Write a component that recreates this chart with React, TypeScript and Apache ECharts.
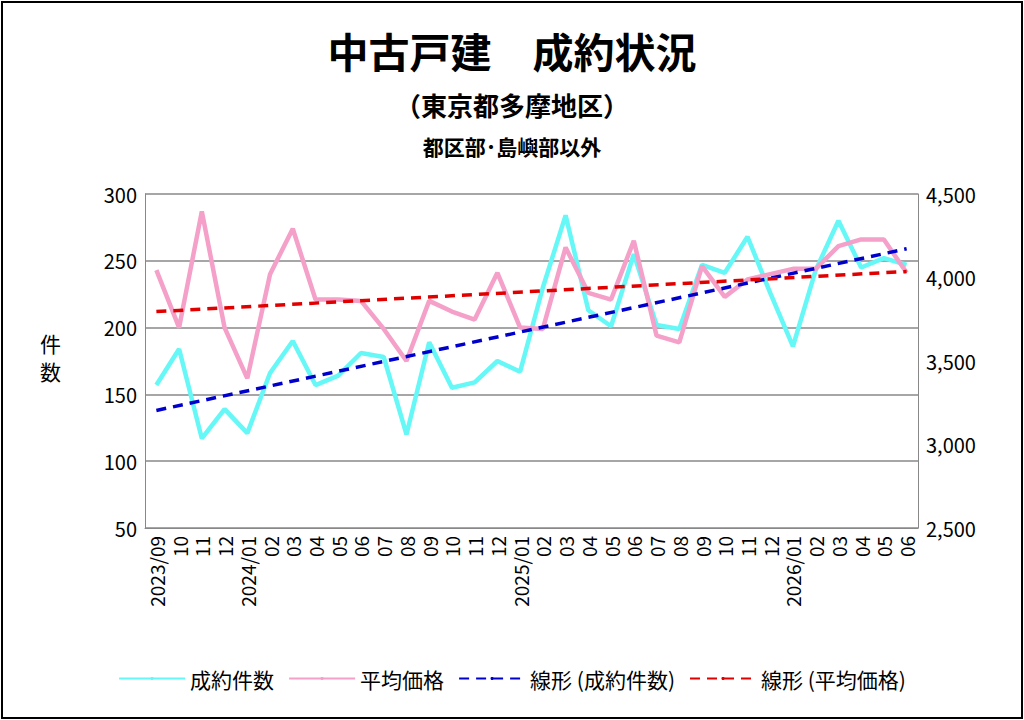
import React from "react";
import * as echarts from "echarts";

const months = [
  "2023/09", "10", "11", "12", "2024/01", "02", "03", "04", "05", "06", "07", "08",
  "09", "10", "11", "12", "2025/01", "02", "03", "04", "05", "06", "07", "08",
  "09", "10", "11", "12", "2026/01", "02", "03", "04", "05", "06",
];
const counts = [
  157, 184, 117, 139, 121, 166, 190, 157, 164, 181, 178, 120,
  189, 155, 159, 175, 167, 230, 284, 213, 201, 255, 202, 199,
  247, 241, 268, 226, 186, 243, 280, 245, 252, 247,
];
const prices = [
  4044, 3700, 4396, 3700, 3396, 4020, 4292, 3868, 3868, 3860, 3692, 3500,
  3860, 3796, 3748, 4028, 3700, 3692, 4180, 3908, 3868, 4220, 3652, 3612,
  4068, 3884, 3988, 4020, 4052, 4052, 4188, 4228, 4228, 4028,
];
// trend line ends
const countTrendEnds = [138, 259];
const priceTrendEnds = [3796, 4036];

const ends = (pair: number[]) =>
  months.map((_, i) => (i === 0 ? pair[0] : i === months.length - 1 ? pair[1] : null));

const FONT = "'Noto Sans CJK JP', 'Noto Sans', sans-serif";

export default function App() {
  const ref = React.useRef<HTMLDivElement>(null);

  React.useEffect(() => {
    if (!ref.current) return;
    const chart = echarts.init(ref.current, undefined, { renderer: "svg" });
    const axisLabel = { color: "#000", fontSize: 20, fontFamily: FONT };
    chart.setOption({
      animation: false,
      backgroundColor: "#fff",
      textStyle: { fontFamily: FONT },
      title: [
        { text: "中古戸建　成約状況", left: "center", top: 24, textStyle: { fontSize: 41, fontWeight: "bold", color: "#000", fontFamily: FONT } },
        { text: "（東京都多摩地区）", left: "center", top: 86, textStyle: { fontSize: 26, fontWeight: "bold", color: "#000", fontFamily: FONT } },
        { text: "都区部･島嶼部以外", left: "center", top: 130, textStyle: { fontSize: 21, fontWeight: "bold", color: "#000", fontFamily: FONT } },
      ],
      graphic: [
        { type: "rect", shape: { x: 2, y: 2, width: 1020, height: 716 }, style: { fill: "none", stroke: "#000", lineWidth: 2 } },
        { type: "text", left: 40, top: 332, style: { text: "件", fontSize: 21, fontFamily: FONT, fill: "#000" } },
        { type: "text", left: 40, top: 360, style: { text: "数", fontSize: 21, fontFamily: FONT, fill: "#000" } },
      ],
      grid: { left: 145, right: 106, top: 194, bottom: 192 },
      legend: {
        bottom: 26,
        left: "center",
        itemWidth: 66,
        itemHeight: 4,
        itemGap: 14,
        textStyle: { fontSize: 21, color: "#000", fontFamily: FONT },
        data: ["成約件数", "平均価格", "線形 (成約件数)", "線形 (平均価格)"],
      },
      xAxis: {
        type: "category",
        data: months,
        boundaryGap: true,
        axisLine: { lineStyle: { color: "#888" } },
        axisTick: { show: false },
        axisLabel: { ...axisLabel, rotate: 90, interval: 0, fontSize: 19 },
      },
      yAxis: [
        {
          type: "value", min: 50, max: 300, interval: 50,
          axisLine: { show: true, lineStyle: { color: "#888" } },
          splitLine: { lineStyle: { color: "#888", width: 1.5 } },
          axisLabel,
        },
        {
          type: "value", min: 2500, max: 4500, interval: 500,
          axisLine: { show: true, lineStyle: { color: "#888" } },
          splitLine: { show: false },
          axisLabel: { ...axisLabel, formatter: (v: number) => v.toLocaleString("en-US") },
        },
      ],
      series: [
        { name: "成約件数", type: "line", data: counts, symbol: "none", lineStyle: { color: "#66f7f7", width: 4.5 }, itemStyle: { color: "#66f7f7" } },
        { name: "平均価格", type: "line", yAxisIndex: 1, data: prices, symbol: "none", lineStyle: { color: "#f4a0c8", width: 4.5 }, itemStyle: { color: "#f4a0c8" } },
        { name: "線形 (成約件数)", type: "line", data: ends(countTrendEnds), connectNulls: true, symbol: "none", lineStyle: { color: "#0000cc", width: 3.5, type: [10, 7] }, itemStyle: { color: "#0000cc" } },
        { name: "線形 (平均価格)", type: "line", yAxisIndex: 1, data: ends(priceTrendEnds), connectNulls: true, symbol: "none", lineStyle: { color: "#e00000", width: 3.5, type: [10, 7] }, itemStyle: { color: "#e00000" } },
      ],
    });
    return () => chart.dispose();
  }, []);

  return <div ref={ref} style={{ position: "fixed", left: 0, top: 0, width: 1024, height: 720 }} />;
}
